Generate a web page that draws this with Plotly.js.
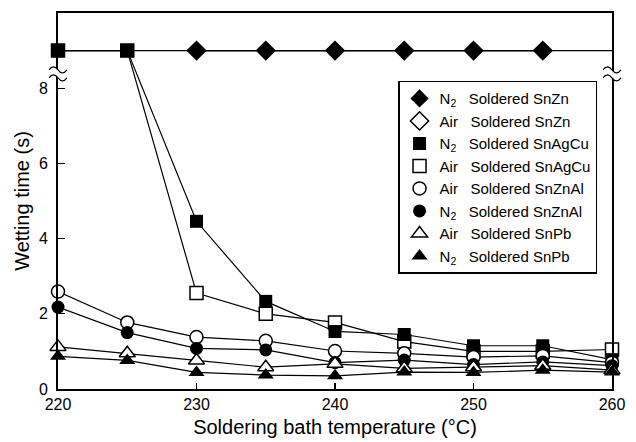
<!DOCTYPE html>
<html>
<head>
<meta charset="utf-8">
<script src="https://cdn.plot.ly/plotly-3.0.1.min.js"></script>
<style>html,body{margin:0;padding:0;background:#fff;}#chart{width:636px;height:442px;}</style>
</head>
<body>
<div id="chart"></div>
<script>
// Soldering bath temperature (°C)
const temps = [220, 225, 230, 235, 240, 245, 250, 255, 260];
// "no wetting" level drawn above the axis break
const nonWetting = 9;
// Wetting time (s)
const n2SnZn    = [null, null, 9, 9, 9, 9, 9, 9, null];
const airSnZn   = [null, null, 9, 9, 9, 9, 9, 9, null];
const n2SnAgCu  = [9, 9, 4.46, 2.33, 1.53, 1.45, 1.15, 1.15, 0.78];
const airSnAgCu = [9, 9, 2.55, 2.00, 1.77, 1.26, 1.00, 1.00, 1.05];
const airSnZnAl = [2.59, 1.77, 1.38, 1.28, 1.01, 0.95, 0.85, 0.88, 0.70];
const n2SnZnAl  = [2.18, 1.50, 1.08, 1.04, 0.70, 0.77, 0.65, 0.72, 0.62];
const airSnPb   = [1.12, 0.95, 0.76, 0.58, 0.67, 0.55, 0.58, 0.62, 0.50];
const n2SnPb    = [0.87, 0.76, 0.44, 0.37, 0.35, 0.45, 0.44, 0.50, 0.45];

const xTicks = [220, 230, 240, 250, 260];
const yTicks = [0, 2, 4, 6, 8];

const SP = '\u00a0\u00a0\u00a0';
const N2 = 'N<sub>2</sub>' + SP;
const AIR = 'Air' + SP;

const series = [
  {name: N2 + 'Soldered SnZn',    y: n2SnZn,    symbol: 'diamond',     fill: 'black', size: 14, rank: 1, z: 2},
  {name: AIR + 'Soldered SnZn',   y: airSnZn,   symbol: 'diamond',     fill: 'white', size: 14, rank: 2, z: 1},
  {name: N2 + 'Soldered SnAgCu',  y: n2SnAgCu,  symbol: 'square',      fill: 'black', size: 13, rank: 3, z: 4},
  {name: AIR + 'Soldered SnAgCu', y: airSnAgCu, symbol: 'square',      fill: 'white', size: 13, rank: 4, z: 3},
  {name: AIR + 'Soldered SnZnAl', y: airSnZnAl, symbol: 'circle',      fill: 'white', size: 13, rank: 5, z: 5},
  {name: N2 + 'Soldered SnZnAl',  y: n2SnZnAl,  symbol: 'circle',      fill: 'black', size: 13, rank: 6, z: 6},
  {name: AIR + 'Soldered SnPb',   y: airSnPb,   symbol: 'triangle-up', fill: 'white', size: 14, rank: 7, z: 7},
  {name: N2 + 'Soldered SnPb',    y: n2SnPb,    symbol: 'triangle-up', fill: 'black', size: 14, rank: 8, z: 8}
];

const traces = [];
// reference line of non-wetting level
traces.push({
  x: [temps[0], temps[temps.length - 1]], y: [nonWetting, nonWetting],
  mode: 'lines', line: {color: 'black', width: 1.2}, showlegend: false, hoverinfo: 'skip'
});
series.forEach(s => {
  traces.push({
    x: temps, y: s.y, mode: 'lines', line: {color: 'black', width: 1.2},
    showlegend: false, hoverinfo: 'skip', cliponaxis: false
  });
});
series.slice().sort((a, b) => a.z - b.z).forEach(s => {
  traces.push({
    x: temps, y: s.y, mode: 'markers', name: s.name, legendrank: s.rank,
    cliponaxis: false,
    marker: {symbol: s.symbol, size: s.size, color: s.fill,
             line: {color: 'black', width: s.fill === 'white' ? 1.5 : 0}}
  });
});

function brk(xp, yp) {
  const common = {type: 'path', xref: 'paper', yref: 'paper', xsizemode: 'pixel', ysizemode: 'pixel',
                  xanchor: xp, yanchor: yp, layer: 'above'};
  return [
    Object.assign({}, common, {
      path: 'M -9,4 Q -4.5,10 0,4 Q 4.5,-2 9,4 L 9,-4 Q 4.5,-10 0,-4 Q -4.5,2 -9,-4 Z',
      fillcolor: 'white', line: {width: 0}
    }),
    Object.assign({}, common, {path: 'M -9,4 Q -4.5,10 0,4 Q 4.5,-2 9,4', line: {color: 'black', width: 1.2}}),
    Object.assign({}, common, {path: 'M -9,-4 Q -4.5,2 0,-4 Q 4.5,-10 9,-4', line: {color: 'black', width: 1.2}})
  ];
}

const layout = {
  width: 636, height: 442,
  margin: {l: 58, r: 24, t: 13, b: 53},
  paper_bgcolor: 'white', plot_bgcolor: 'white',
  font: {family: '"Liberation Sans", Arial, sans-serif', color: 'black', size: 16},
  showlegend: true,
  legend: {
    x: 0.973, xanchor: 'right', y: 0.82, yanchor: 'top',
    bordercolor: 'black', borderwidth: 1.5, bgcolor: 'white',
    font: {size: 15}, itemclick: false, tracegroupgap: 0
  },
  xaxis: {
    range: [220, 260], tickvals: xTicks, ticktext: xTicks.map(String),
    ticks: 'inside', ticklen: 6, tickwidth: 1.2, tickcolor: 'black',
    showline: true, linewidth: 2, linecolor: 'black', mirror: true,
    showgrid: false, zeroline: false,
    tickfont: {size: 16},
    title: {text: 'Soldering bath temperature (°C)', font: {size: 20}, standoff: 8}
  },
  yaxis: {
    range: [0, 10], tickvals: yTicks, ticktext: yTicks.map(String),
    ticks: 'inside', ticklen: 7, tickwidth: 1.2, tickcolor: 'black',
    showline: true, linewidth: 2, linecolor: 'black', mirror: true,
    showgrid: false, zeroline: false,
    tickfont: {size: 16}, ticklabelstandoff: 5,
    title: {text: 'Wetting time (s)', font: {size: 20}, standoff: 4}
  },
  shapes: [].concat(brk(0, 0.838), brk(1, 0.838))
};

Plotly.newPlot('chart', traces, layout, {staticPlot: true, displayModeBar: false});
</script>
</body>
</html>
